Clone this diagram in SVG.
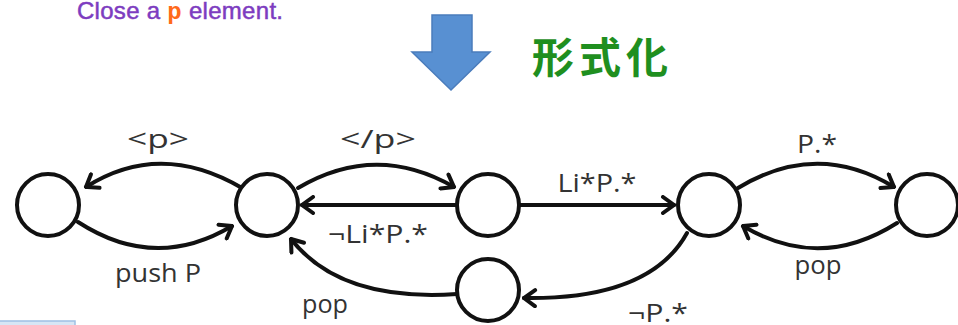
<svg xmlns="http://www.w3.org/2000/svg" width="958" height="325" viewBox="0 0 958 325">
  <defs>
    <style>
      .state { fill: #ffffff; stroke: #111111; stroke-width: 4; }
      .edge { fill: none; stroke: #111111; stroke-width: 4; stroke-linecap: round; marker-end: url(#chev); }
      .lbl { font-family: "Open Sans", "DejaVu Sans", sans-serif; font-size: 26px; fill: #333333; text-anchor: middle; }
      .title { font-family: "Liberation Sans", Arial, sans-serif; font-size: 24px; fill: #7d3cc0; stroke: #7d3cc0; stroke-width: 0.5; }
      .tag { font-family: "Liberation Mono", "Courier New", monospace; font-weight: bold; fill: #ff6a1a; stroke: none; }
      .heading { font-family: "Noto Sans CJK JP", "Noto Sans CJK SC", sans-serif; font-size: 42px; font-weight: bold; fill: #1f8f1f; }
    </style>
    <marker id="chev" viewBox="-14 -10 16 20" refX="0" refY="0" markerWidth="16" markerHeight="20" markerUnits="userSpaceOnUse" orient="auto">
      <path d="M -11 -8 L 0 0 L -11 8" fill="none" stroke="#111111" stroke-width="4" stroke-linecap="round" stroke-linejoin="miter"/>
    </marker>
  </defs>

  <rect width="958" height="325" fill="#ffffff"/>

  <!-- caption line -->
  <text class="title" x="77" y="19" textLength="206">Close a <tspan class="tag">p</tspan> element.</text>

  <!-- down arrow and heading -->
  <path d="M 432 15 L 472 15 L 472 52 L 490 52 L 451 90 L 412 52 L 432 52 Z" fill="#5890d2" stroke="#4a7cbc" stroke-width="1.5"/>
  <text class="heading" x="532" y="73" textLength="136">形式化</text>

  <!-- strip at lower left -->
  <rect x="-2" y="321" width="77" height="10" fill="#d6e6f5" stroke="#9fc0e4" stroke-width="1.5"/>

  <!-- connectors -->
  <g id="edges">
    <path class="edge" d="M 242 188 Q 160 140 86 187"/>
    <path class="edge" d="M 78 222 Q 155 272 232 226"/>
    <path class="edge" d="M 298 188 Q 376 142 454 187"/>
    <path class="edge" d="M 457 205 L 302 205"/>
    <path class="edge" d="M 520 205 L 674 205"/>
    <path class="edge" d="M 738 188 Q 817 140 894 187"/>
    <path class="edge" d="M 897 223 Q 820 272 743 226"/>
    <path class="edge" d="M 687 233 Q 650 300 524 298"/>
    <path class="edge" d="M 457 294 Q 340 302 291 239"/>
  </g>

  <!-- labels -->
  <g id="labels">
    <text class="lbl" x="158" y="148" textLength="62" lengthAdjust="spacingAndGlyphs">&lt;p&gt;</text>
    <text class="lbl" x="378" y="148" textLength="76" lengthAdjust="spacingAndGlyphs">&lt;/p&gt;</text>
    <text class="lbl" x="158" y="282" textLength="86" lengthAdjust="spacingAndGlyphs">push P</text>
    <text class="lbl" x="378" y="243" textLength="100" lengthAdjust="spacingAndGlyphs">¬Li*P.*</text>
    <text class="lbl" x="325" y="313" textLength="46" lengthAdjust="spacingAndGlyphs">pop</text>
    <text class="lbl" x="597" y="192" textLength="79" lengthAdjust="spacingAndGlyphs">Li*P.*</text>
    <text class="lbl" x="817" y="153" textLength="40" lengthAdjust="spacingAndGlyphs">P.*</text>
    <text class="lbl" x="818" y="274" textLength="47" lengthAdjust="spacingAndGlyphs">pop</text>
    <text class="lbl" x="658" y="322" textLength="60" lengthAdjust="spacingAndGlyphs">¬P.*</text>
  </g>

  <!-- states -->
  <g id="s0"><circle class="state" cx="48" cy="205" r="31"/></g>
  <g id="s1"><circle class="state" cx="267" cy="205" r="31"/></g>
  <g id="s2"><circle class="state" cx="488" cy="205" r="31"/></g>
  <g id="s3"><circle class="state" cx="709" cy="205" r="31"/></g>
  <g id="s4"><circle class="state" cx="927" cy="205" r="31"/></g>
  <g id="s5"><circle class="state" cx="488" cy="290" r="31"/></g>
</svg>
